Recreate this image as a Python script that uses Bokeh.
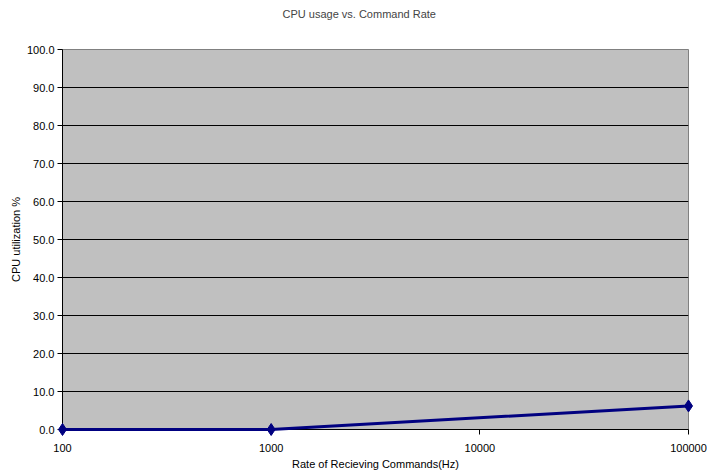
from bokeh.plotting import figure
from bokeh.models import FixedTicker, NumeralTickFormatter, Range1d
from bokeh.embed import file_html
from bokeh.resources import INLINE

rates = [100, 1000, 100000]
cpu = [0.0, 0.0, 6.2]
x_ticks = [100, 1000, 10000, 100000]
y_ticks = [0, 10, 20, 30, 40, 50, 60, 70, 80, 90, 100]

FONT = "Liberation Sans"

p = figure(width=707, height=472, x_axis_type="log",
           x_range=Range1d(100, 100000), y_range=Range1d(0, 100),
           output_backend="svg", toolbar_location=None,
           title="CPU usage vs. Command Rate",
           min_border_left=62, min_border_right=19, min_border_top=49, min_border_bottom=42)

p.title.align = "left"
p.title.offset = 220
p.title.text_font = FONT
p.title.text_font_size = "11px"
p.title.text_font_style = "normal"
p.title.padding = (0, 0, 0, 25)

p.background_fill_color = "#C0C0C0"
p.border_fill_color = "white"
p.outline_line_color = "#808080"
p.outline_line_width = 1

p.xgrid.visible = False
p.ygrid.grid_line_color = "black"
p.ygrid.grid_line_width = 1
p.ygrid.ticker = FixedTicker(ticks=y_ticks)

p.line(rates, cpu, line_color="#000080", line_width=3, level="overlay")
p.scatter(rates, cpu, marker="diamond", size=12, fill_color="#000080",
          line_color="#000080", level="overlay")

p.xaxis.ticker = FixedTicker(ticks=x_ticks, minor_ticks=[])
p.xaxis.formatter = NumeralTickFormatter(format="0")
p.yaxis.ticker = FixedTicker(ticks=y_ticks, minor_ticks=[])
p.yaxis.formatter = NumeralTickFormatter(format="0.0")

p.xaxis.axis_label = "Rate of Recieving Commands(Hz)"
p.yaxis.axis_label = "CPU utilization %"

for ax in (p.xaxis, p.yaxis):
    ax.axis_line_color = "black"
    ax.major_tick_line_color = "black"
    ax.major_tick_out = 5
    ax.major_tick_in = 0
    ax.minor_tick_line_color = None
    ax.major_label_text_font = FONT
    ax.major_label_text_font_size = "11px"
    ax.major_label_text_color = "black"
    ax.axis_label_text_font = FONT
    ax.axis_label_text_font_size = "11px"
    ax.axis_label_text_font_style = "normal"
    ax.axis_label_text_color = "black"

p.xaxis.major_label_standoff = 9
p.yaxis.major_label_standoff = 3
p.xaxis.axis_label_standoff = 3
p.yaxis.axis_label_standoff = 2

open("out.html", "w").write(file_html(p, INLINE))
